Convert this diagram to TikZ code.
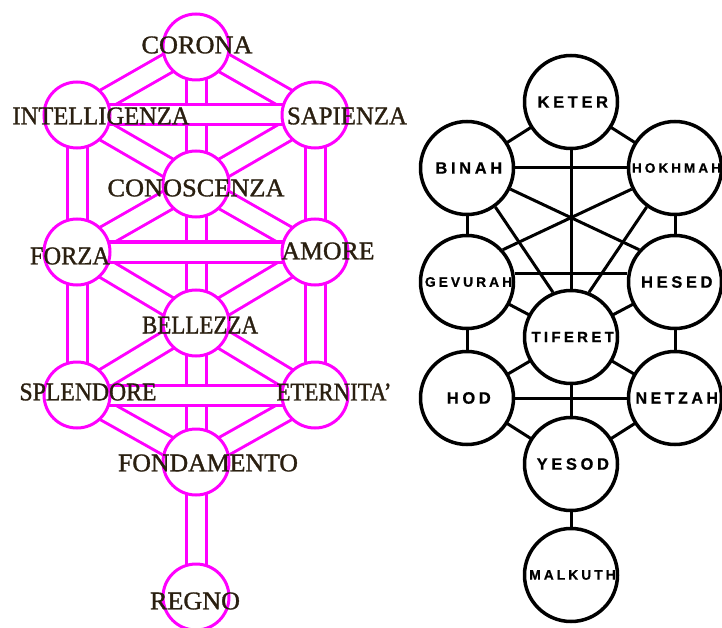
\documentclass[tikz,border=0pt]{standalone}
\usepackage{fontspec}
\newfontfamily\lfont{Liberation Serif}[FakeBold=1.2]
\newfontfamily\rfont{Liberation Sans Bold}[LetterSpace=22,FakeBold=0.7]
\usetikzlibrary{calc}
\pgfdeclarelayer{bg}
\pgfsetlayers{bg,main}
\definecolor{mag}{HTML}{FF00FF}
\definecolor{ink}{HTML}{2A1F10}
\newcommand{\rt}[2]{{\fontsize{#1}{#1}\selectfont\kern.22em #2}}
\newcommand{\lt}[2]{\resizebox{#1pt}{\height}{#2}}
\begin{document}
\begin{tikzpicture}[x=1pt,y=-1pt,
 lcirc/.style={circle,draw=mag,line width=3pt,fill=white,minimum size=66pt,inner sep=0pt},
 bar/.style={draw=mag,line width=3pt,double=white,double distance=17pt},
 ltext/.style={text=ink,font=\lfont\fontsize{25.5}{25.5}\selectfont,inner sep=0pt},
 rcirc/.style={circle,draw=black,line width=3.5pt,fill=white,minimum size=93pt,inner sep=0pt,font=\rfont},
 rline/.style={draw=black,line width=3pt}]
\useasboundingbox (0,0) rectangle (722,628);
% ---------- right tree ----------
\node[rcirc] (keter) at (571,102) {\rt{16.5}{KETER}};
\node[rcirc] (binah) at (467,168) {\rt{16.5}{BINAH}};
\node[rcirc] (hokhmah) at (675,168) {\rt{13.6}{HOKHMAH}};
\node[rcirc] (gevurah) at (467,282) {\rt{13.8}{GEVURAH}};
\node[rcirc] (hesed) at (675,282) {\rt{16.5}{HESED}};
\node[rcirc] (tiferet) at (571,337) {\rt{15}{TIFERET}};
\node[rcirc] (hod) at (467,398) {\rt{16.5}{HOD}};
\node[rcirc] (netzah) at (675,398) {\rt{16}{NETZAH}};
\node[rcirc] (yesod) at (571,464) {\rt{16.5}{YESOD}};
\node[rcirc] (malkuth) at (571,575) {\rt{13.8}{MALKUTH}};
\begin{pgfonlayer}{bg}
\draw[rline] (keter.center) -- (binah.center);
\draw[rline] (keter.center) -- (hokhmah.center);
\draw[rline] (keter.center) -- (tiferet.center);
\draw[rline] (binah.center) -- (hokhmah.center);
\draw[rline] (binah.-26) -- (hesed.138);
\draw[rline] (hokhmah.206) -- (gevurah.42);
\draw[rline] (binah.-54) -- (tiferet.112);
\draw[rline] (hokhmah.234) -- (tiferet.68);
\draw[rline] (binah.center) -- (gevurah.center);
\draw[rline] (hokhmah.center) -- (hesed.center);
\draw[rline] (gevurah.10) -- (hesed.170);
\draw[rline] (gevurah.center) -- (tiferet.center);
\draw[rline] (hesed.center) -- (tiferet.center);
\draw[rline] (gevurah.center) -- (hod.center);
\draw[rline] (hesed.center) -- (netzah.center);
\draw[rline] (hod.center) -- (tiferet.center);
\draw[rline] (netzah.center) -- (tiferet.center);
\draw[rline] (hod.center) -- (netzah.center);
\draw[rline] (tiferet.center) -- (yesod.center);
\draw[rline] (hod.center) -- (yesod.center);
\draw[rline] (netzah.center) -- (yesod.center);
\draw[rline] (yesod.center) -- (malkuth.center);
\end{pgfonlayer}
% ---------- left tree ----------
\node[lcirc] (corona) at (196,47) {};
\node[lcirc] (intel) at (77,115) {};
\node[lcirc] (sapienza) at (315,115) {};
\node[lcirc] (conosc) at (196,184) {};
\node[lcirc] (forza) at (77,252) {};
\node[lcirc] (amore) at (315,252) {};
\node[lcirc] (bellezza) at (196,323) {};
\node[lcirc] (splendore) at (77,395) {};
\node[lcirc] (eternita) at (315,395) {};
\node[lcirc] (fondamento) at (196,462) {};
\node[lcirc] (regno) at (196,597) {};
\begin{pgfonlayer}{bg}
% diagonals
\draw[bar] (corona.center) -- (intel.center);
\draw[bar] (corona.center) -- (sapienza.center);
\draw[bar] (intel.center) -- (conosc.center);
\draw[bar] (sapienza.center) -- (conosc.center);
\draw[bar] (conosc.center) -- (forza.center);
\draw[bar] (conosc.center) -- (amore.center);
\draw[bar] (forza.center) -- (bellezza.center);
\draw[bar] (amore.center) -- (bellezza.center);
\draw[bar] (bellezza.center) -- (splendore.center);
\draw[bar] (bellezza.center) -- (eternita.center);
\draw[bar] (splendore.center) -- (fondamento.center);
\draw[bar] (eternita.center) -- (fondamento.center);
% verticals
\draw[bar] (corona.center) -- (conosc.center);
\draw[bar] (conosc.center) -- (bellezza.center);
\draw[bar] (bellezza.center) -- (fondamento.center);
\draw[bar] (fondamento.center) -- (regno.center);
\draw[bar] (intel.center) -- (forza.center);
\draw[bar] (forza.center) -- (splendore.center);
\draw[bar] (sapienza.center) -- (amore.center);
\draw[bar] (amore.center) -- (eternita.center);
% horizontals
\draw[bar] (intel.center) -- (sapienza.center);
\draw[bar] (forza.center) -- (amore.center);
\draw[bar] (splendore.center) -- (eternita.center);
\end{pgfonlayer}
% texts
\node[ltext] (t-corona) at (197,45) {\lt{111}{CORONA}};
\node[ltext] (t-intel) at (101,116) {\lt{177}{INTELLIGENZA}};
\node[ltext] (t-sapienza) at (347,116) {\lt{120}{SAPIENZA}};
\node[ltext] (t-conosc) at (196,188) {\lt{177}{CONOSCENZA}};
\node[ltext] (t-forza) at (70,256) {\lt{80}{FORZA}};
\node[ltext] (t-amore) at (328,251) {\lt{93}{AMORE}};
\node[ltext] (t-bellezza) at (200,325) {\lt{116}{BELLEZZA}};
\node[ltext] (t-splendore) at (88,392) {\lt{137}{SPLENDORE}};
\node[ltext] (t-eternita) at (334,392) {\lt{115}{ETERNITA’}};
\node[ltext] (t-fondamento) at (208,463) {\lt{180}{FONDAMENTO}};
\node[ltext] (t-regno) at (195,601) {\lt{90}{REGNO}};
\end{tikzpicture}
\end{document}
